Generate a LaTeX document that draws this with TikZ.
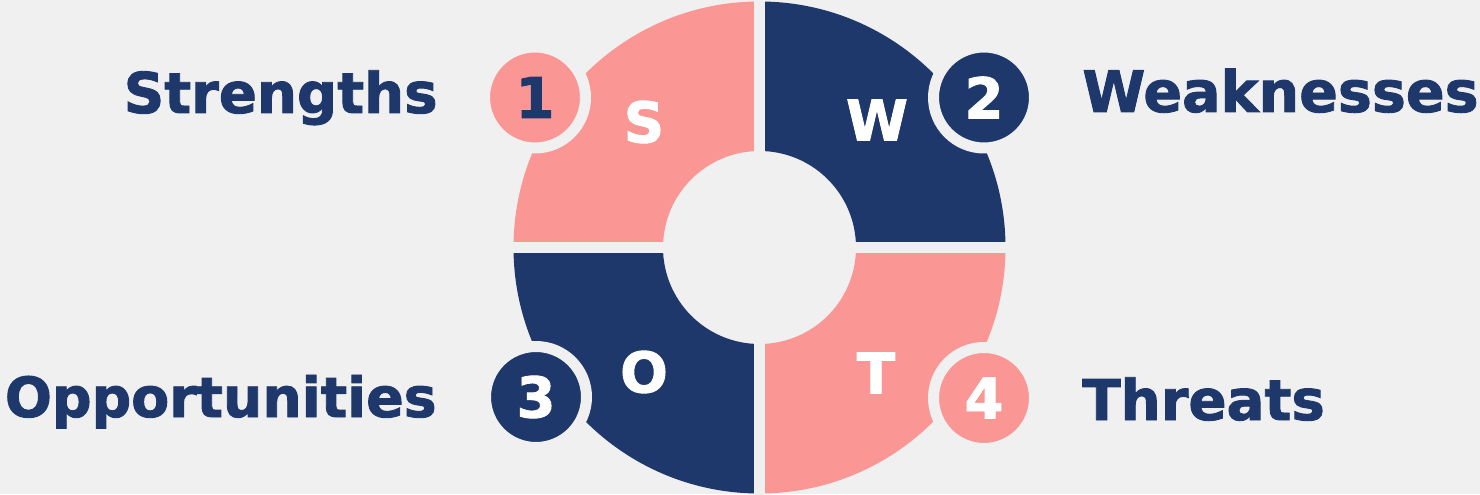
\documentclass[tikz,border=0pt]{standalone}
\usepackage{fontspec}
\setmainfont{DejaVu Sans}[BoldFeatures={FakeBold=1.6}]
\usetikzlibrary{calc}
\definecolor{bgc}{RGB}{240,240,240}
\definecolor{navy}{RGB}{30,56,107}
\definecolor{salm}{RGB}{250,150,148}

\begin{document}
\begin{tikzpicture}[
  x=0.02cm, y=0.02cm,
  numc/.style={circle, draw=bgc, line width=0.22cm, minimum size=2.02cm, inner sep=0, font=\fontsize{32}{38}\selectfont\bfseries},
  letr/.style={inner sep=0, text=white, font=\fontsize{32}{38}\selectfont\bfseries},
  lbl/.style={inner sep=0, text=navy, font=\fontsize{32}{38}\selectfont\bfseries},
  gap/.style={draw=bgc, line width=0.22cm}
]
\fill[bgc] (0,0) rectangle (1480,494);
\useasboundingbox (0,0) rectangle (1480,494);

\coordinate (c) at (759.5,246.5);

% ring quarters
\foreach \a/\col in {0/navy, 90/salm, 180/navy, 270/salm}
  \fill[\col] ($(c)+(\a:246)$) arc[start angle=\a, end angle=\a+90, radius=246]
    -- ($(c)+(\a+90:96.5)$) arc[start angle=\a+90, end angle=\a, radius=96.5] -- cycle;
\draw[gap] ($(c)+(-250,0)$) -- ($(c)+(250,0)$);
\draw[gap] ($(c)+(0,-250)$) -- ($(c)+(0,250)$);

% numbered dots
\node[numc, fill=salm, text=navy] (n1) at (535,396.5) {1};
\node[numc, fill=navy, text=white] (n2) at (984,396.5) {2};
\node[numc, fill=navy, text=white] (n3) at (536,97) {3};
\node[numc, fill=salm, text=white] (n4) at (984,96) {4};

\node[letr] (ls) at (644,372) {S};
\node[letr] (lw) at (877,374) {W};
\node[letr] (lo) at (644,122) {O};
\node[letr] (lt) at (876,121) {T};

\node[lbl, anchor=base east] (strengths) at (438,381) {Strengths};
\node[lbl, anchor=base west, font=\fontsize{32.5}{38}\selectfont\bfseries] (weaknesses) at (1082,382) {Weaknesses};
\node[lbl, anchor=base east, font=\fontsize{31.5}{38}\selectfont\bfseries] (opportunities) at (437,77) {Opportunities};
\node[lbl, anchor=base west] (threats) at (1082,74) {Threats};

\end{tikzpicture}
\end{document}
